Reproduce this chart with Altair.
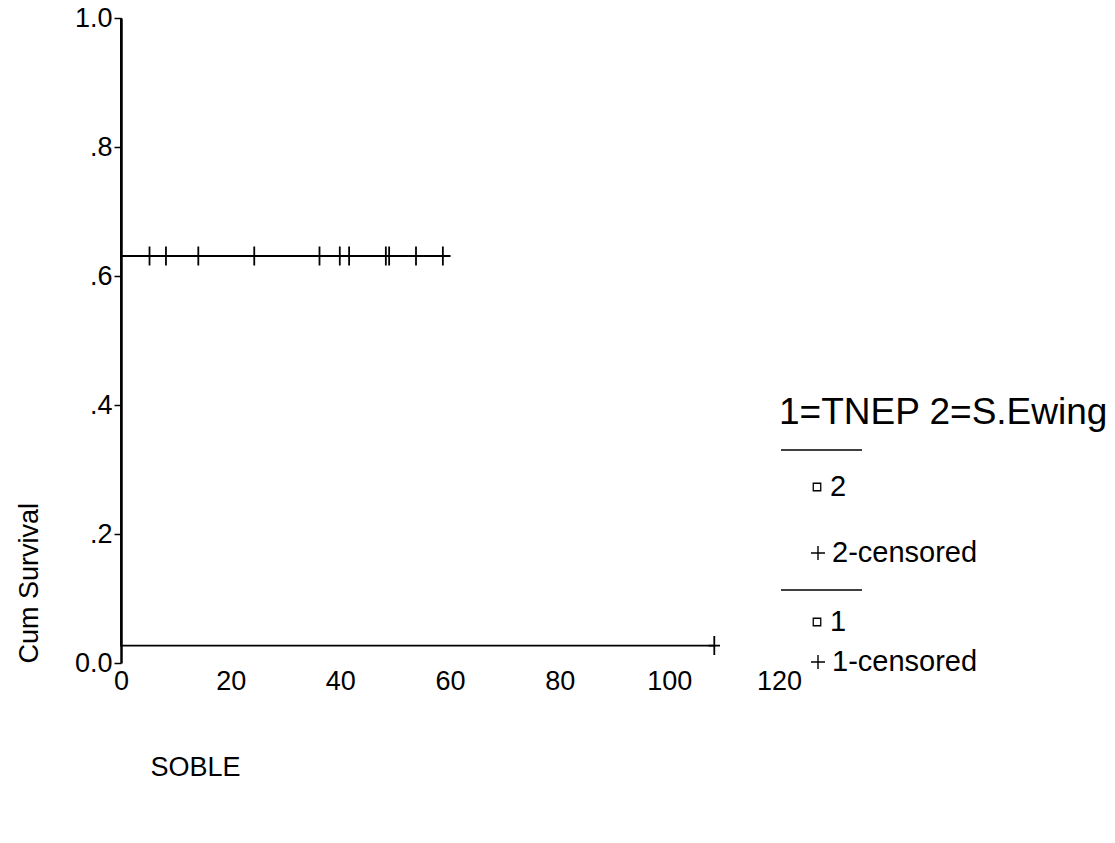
import altair as alt
import pandas as pd

# ---- data ----
group_names = ["2", "1"]
g2_time = [0, 0, 60.1]
g2_surv = [1.0, 0.631, 0.631]
g1_time = [0, 0, 108.2]
g1_surv = [1.0, 0.027, 0.027]
g2_censor_time = [5.2, 8.2, 14.1, 24.3, 36.2, 39.9, 41.6, 48.3, 48.9, 53.8, 58.7]
g1_censor_time = [108.2]
y_ticks = [0.0, 0.2, 0.4, 0.6, 0.8, 1.0]
x_ticks = [0, 20, 40, 60, 80, 100, 120]
legend_title = "1=TNEP 2=S.Ewing"
legend_labels = ["2", "2-censored", "1", "1-censored"]

FONT = "Liberation Sans"

curve_rows = []
for g, ts, ss in (("2", g2_time, g2_surv), ("1", g1_time, g1_surv)):
    for i, (t, s) in enumerate(zip(ts, ss)):
        curve_rows.append({"group": g, "time": t, "surv": s, "idx": i})
curves = pd.DataFrame(curve_rows)

cens_rows = [{"group": "2", "time": t, "surv": g2_surv[-1]} for t in g2_censor_time]
cens_rows += [{"group": "1", "time": t, "surv": g1_surv[-1]} for t in g1_censor_time]
cens = pd.DataFrame(cens_rows)

xscale = alt.Scale(domain=[0, 120], nice=False, zero=False)
yscale = alt.Scale(domain=[0, 1], nice=False)

xaxis = alt.Axis(values=x_ticks, title="SOBLE", domain=False, ticks=False, grid=False,
                 labelFont=FONT, labelFontSize=27, labelColor="black", labelPadding=5,
                 titleFont=FONT, titleFontSize=27, titleFontWeight="normal", titleColor="black",
                 titleAnchor="start", titleAlign="left", titleBaseline="middle",
                 titleX=29, titleY=104, labelFlush=False)
yaxis = alt.Axis(values=y_ticks, title="Cum Survival", grid=False,
                 labelExpr="datum.value == 0 ? '0.0' : datum.value == 1 ? '1.0' : replace(format(datum.value, '.1f'), '0.', '.')",
                 domainColor="black", domainWidth=2.5, tickColor="black", tickWidth=1.5, tickSize=7,
                 labelFont=FONT, labelFontSize=27, labelColor="black", labelPadding=2,
                 titleFont=FONT, titleFontSize=27, titleFontWeight="normal", titleColor="black",
                 titleAngle=-90, titleAnchor="start", titleAlign="left", titleBaseline="middle",
                 titleX=-92, titleY=645, labelFlush=False)

base = alt.Chart(curves)
lines = base.mark_line(color="black", strokeWidth=1.8, interpolate="linear").encode(
    x=alt.X("time:Q", scale=xscale, axis=xaxis),
    y=alt.Y("surv:Q", scale=yscale, axis=yaxis),
    detail="group:N",
    order="idx:Q",
)

censor_path = "M0,-1L0,1M-0.6,0L0.6,0"
censors = alt.Chart(cens).mark_point(shape=censor_path, filled=False, color="black",
                                     strokeWidth=1.8, size=361, opacity=1).encode(
    x=alt.X("time:Q", scale=xscale),
    y=alt.Y("surv:Q", scale=yscale),
)

layers = [lines, censors]

def txt(s, x, y, size):
    return alt.Chart(pd.DataFrame({"t": [s]})).mark_text(
        font=FONT, fontSize=size, align="left", baseline="middle", color="black"
    ).encode(x=alt.value(x), y=alt.value(y), text="t:N")

def rule(x1, x2, y):
    return alt.Chart(pd.DataFrame({"a": [0]})).mark_rule(color="black", strokeWidth=1.3).encode(
        x=alt.value(x1), x2=alt.value(x2), y=alt.value(y))

def sym(shape, x, y, size, sw=1):
    return alt.Chart(pd.DataFrame({"a": [0]})).mark_point(
        shape=shape, filled=False, color="black", strokeWidth=sw, size=size, opacity=1
    ).encode(x=alt.value(x), y=alt.value(y))

plus_path = "M-1,0L1,0M0,-1L0,1"
layers += [
    txt(legend_title, 658, 395, 37),
    rule(660, 741, 432),
    sym("square", 696, 469, 56, 1.3),
    txt(legend_labels[0], 709, 469, 29),
    sym(plus_path, 697, 535, 196, 1.4),
    txt(legend_labels[1], 711, 535, 29),
    rule(660, 741, 572),
    sym("square", 696, 604, 56, 1.3),
    txt(legend_labels[2], 709, 604, 29),
    sym(plus_path, 697, 644, 196, 1.4),
    txt(legend_labels[3], 711, 644, 29),
]

chart = alt.layer(*layers).properties(
    width=658, height=645,
    autosize=alt.AutoSizeParams(type="none"),
    padding={"left": 121, "top": 18, "right": 336, "bottom": 180},
    background="white",
).configure_view(stroke=None)

chart.save("out.html", embed_options={"renderer": "svg", "actions": False})
